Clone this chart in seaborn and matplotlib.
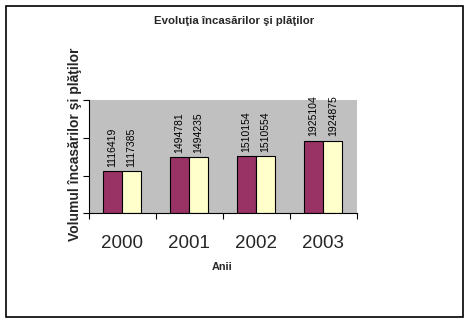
import matplotlib
matplotlib.use("Agg")
import matplotlib.pyplot as plt
from matplotlib.patches import Rectangle
import seaborn as sns
import pandas as pd

# Annual totals for receipts and payments
years = ["2000", "2001", "2002", "2003"]
incasari = [1116419, 1494781, 1510154, 1925104]
plati = [1117385, 1494235, 1510554, 1924875]
series = ["Încasări", "Plăţi"]

df = pd.DataFrame({
    "An": years * 2,
    "Valoare": incasari + plati,
    "Serie": [series[0]] * len(years) + [series[1]] * len(years),
})

sns.set_style("white")
plt.rcParams["font.family"] = ["Liberation Sans", "DejaVu Sans"]

W, H = 468, 324
fig = plt.figure(figsize=(W / 100, H / 100), dpi=100)

def px_axes(x0, y0, x1, y1):
    return [x0 / W, 1 - y1 / H, (x1 - x0) / W, (y1 - y0) / H]

ax = fig.add_axes(px_axes(88.5, 100, 356.7, 213.3))
ax.set_facecolor("#C0C0C0")

sns.barplot(data=df, x="An", y="Valoare", hue="Serie",
            palette=["#993366", "#FFFFCC"], saturation=1, width=0.57, gap=0,
            edgecolor="black", linewidth=0.8, legend=False, ax=ax)

for cont in ax.containers:
    ax.bar_label(cont, labels=[f"{int(v)}" for v in cont.datavalues],
                 rotation=90, padding=3, fontsize=7.5, color="black")

ax.set_ylim(0, 3000000)
ax.set_xlim(-0.5, len(years) - 0.5)
ax.set_yticks([0, 1000000, 2000000, 3000000])
ax.set_yticklabels([])
ax.tick_params(axis="y", direction="out", length=4, width=0.8, color="black", left=True)

# category boundaries carry the ticks, labels sit at the centres
ax.set_xticks([i - 0.5 for i in range(len(years) + 1)], minor=True)
ax.tick_params(axis="x", which="minor", direction="out", length=4.5, width=0.8,
               color="black", bottom=True)
ax.set_xticks(range(len(years)))
ax.set_xticklabels(years, fontsize=13.5)
ax.tick_params(axis="x", which="major", length=0, pad=15.5)

ax.set_xlabel("")
ax.set_ylabel("")
for side in ["top", "right"]:
    ax.spines[side].set_visible(False)
for side in ["left", "bottom"]:
    ax.spines[side].set_color("black")
    ax.spines[side].set_linewidth(0.8)

fig.text(234 / W, 1 - 21 / H, "Evoluţia încasărilor şi plăţilor",
         ha="center", va="center", fontsize=8.2, fontweight="bold")
fig.text(222 / W, 1 - 267 / H, "Anii", ha="center", va="center",
         fontsize=7.8, fontweight="bold")
fig.text(75 / W, 1 - 144 / H, "Volumul încasărilor şi plăţilor",
         ha="center", va="center", rotation=90, fontsize=10, fontweight="bold")

fig.patches.append(Rectangle((5.5 / W, 1 - 316.5 / H), 457.5 / W, 311 / H,
                             transform=fig.transFigure, fill=False,
                             edgecolor="black", linewidth=1.2))

fig.savefig("out.png", dpi=100, facecolor="white")
